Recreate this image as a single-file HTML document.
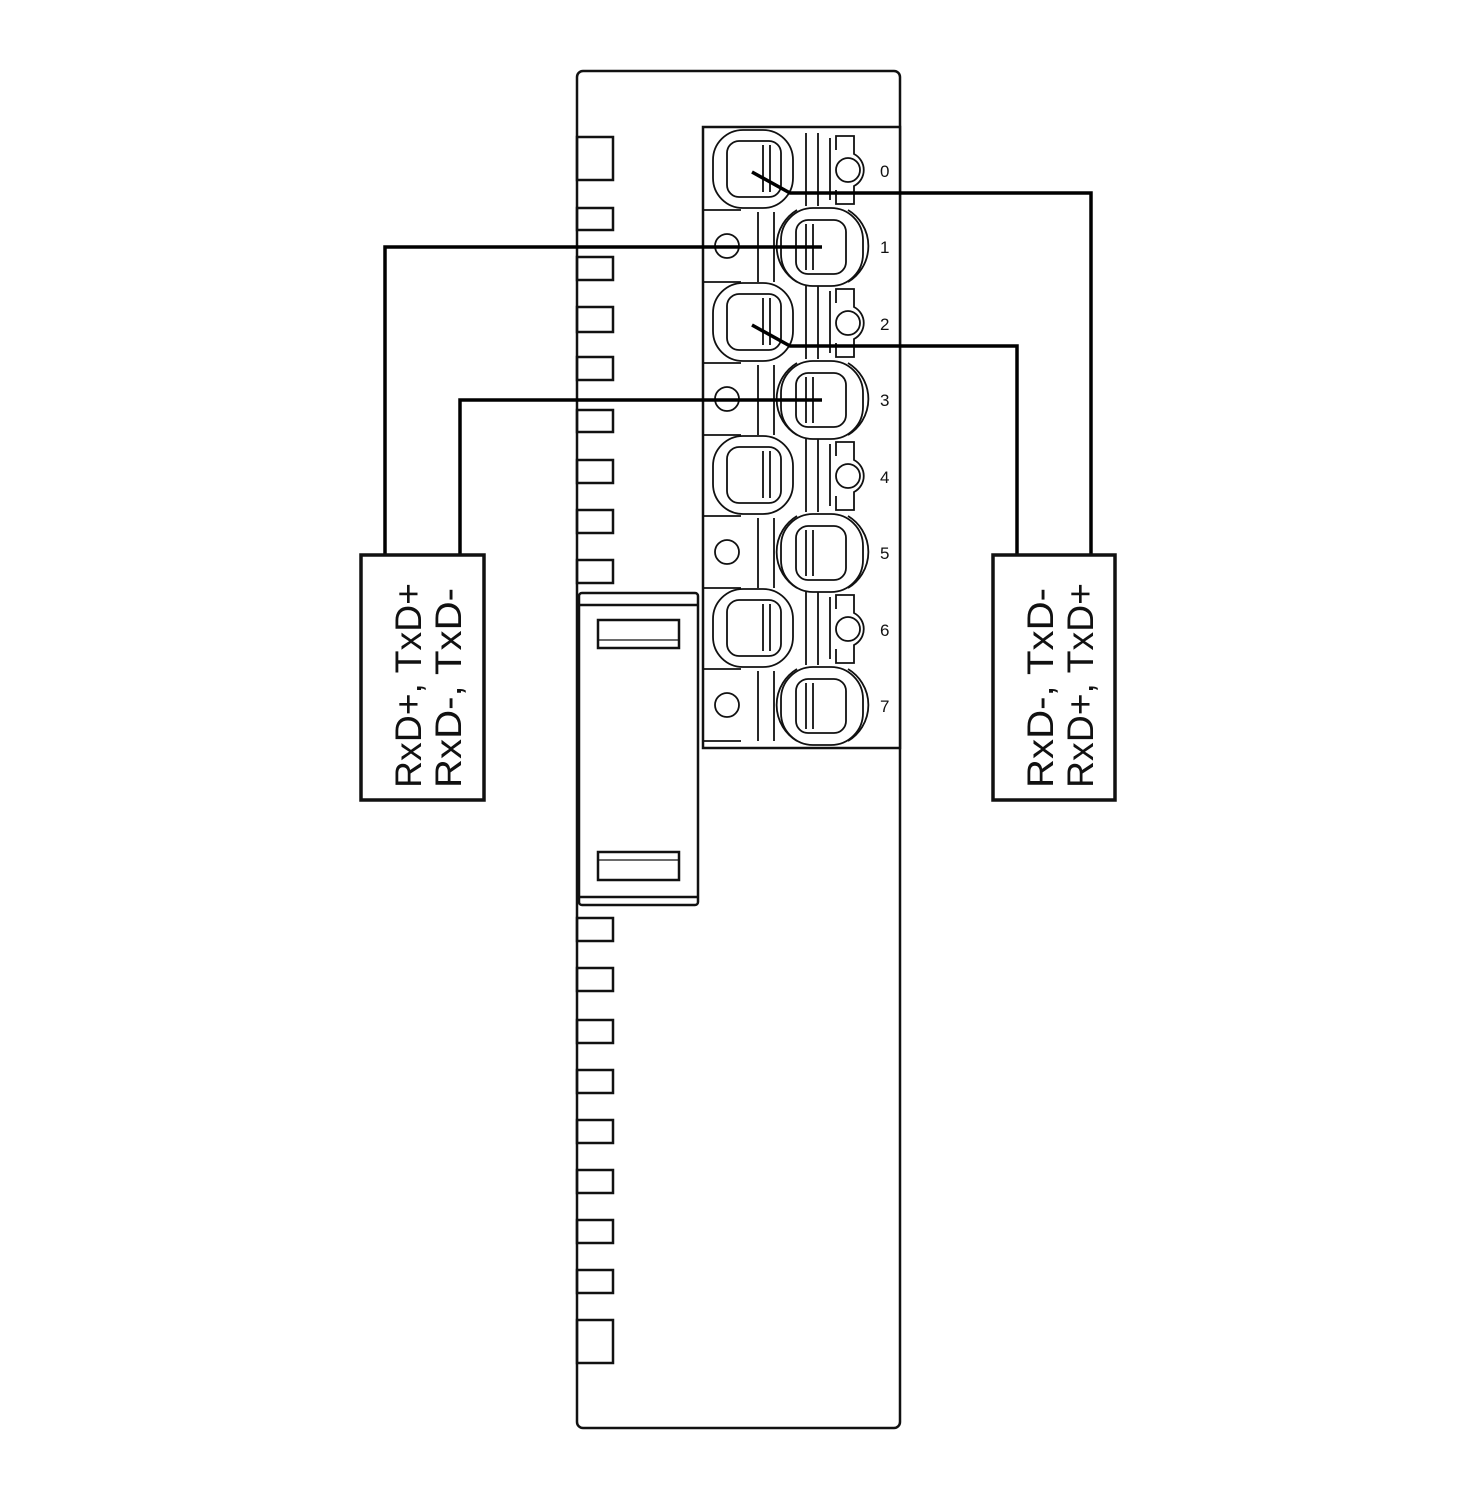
<!DOCTYPE html>
<html><head><style>html,body{margin:0;padding:0;background:#fff}svg{display:block}</style></head>
<body>
<svg width="1477" height="1500" viewBox="0 0 1477 1500" xmlns="http://www.w3.org/2000/svg" fill="none" stroke="#111" stroke-width="2.5">
<rect x="577" y="71" width="323" height="1357" rx="6"/>
<g stroke-width="2.5">
<rect x="577" y="137" width="36" height="43"/>
<rect x="577" y="208" width="36" height="22"/>
<rect x="577" y="257" width="36" height="23"/>
<rect x="577" y="307" width="36" height="25"/>
<rect x="577" y="357" width="36" height="23"/>
<rect x="577" y="410" width="36" height="22"/>
<rect x="577" y="460" width="36" height="23"/>
<rect x="577" y="510" width="36" height="23"/>
<rect x="577" y="560" width="36" height="23"/>
<rect x="577" y="918" width="36" height="23"/>
<rect x="577" y="968" width="36" height="23"/>
<rect x="577" y="1020" width="36" height="23"/>
<rect x="577" y="1070" width="36" height="23"/>
<rect x="577" y="1120" width="36" height="23"/>
<rect x="577" y="1170" width="36" height="23"/>
<rect x="577" y="1220" width="36" height="23"/>
<rect x="577" y="1270" width="36" height="23"/>
<rect x="577" y="1320" width="36" height="43"/>
</g>
<rect x="579" y="593" width="119" height="312" rx="3" fill="#fff"/>
<line x1="579" y1="605" x2="698" y2="605"/>
<line x1="579" y1="897" x2="698" y2="897"/>
<rect x="598" y="620" width="81" height="28"/>
<line x1="598" y1="640" x2="679" y2="640" stroke-width="1.2"/>
<rect x="598" y="852" width="81" height="28"/>
<line x1="598" y1="860" x2="679" y2="860" stroke-width="1.2"/>
<rect x="703" y="127" width="197" height="621" fill="#fff"/>
<g stroke-width="1.8">
<g id="ev">
<rect x="713" y="130" width="80" height="78" rx="30"/>
<rect x="727" y="141" width="54" height="56" rx="12"/>
<line x1="763" y1="145" x2="763" y2="192"/>
<line x1="770" y1="145" x2="770" y2="192"/>
<line x1="806" y1="133" x2="806" y2="206"/>
<line x1="818" y1="133" x2="818" y2="206"/>
<line x1="830" y1="138" x2="830" y2="200"/>
<circle cx="848" cy="170" r="12"/>
<path d="M836 150 v-14 h18 v18 a18 18 0 0 1 0 32 v18 h-18 v-14"/>
</g>
<use href="#ev" y="153"/>
<use href="#ev" y="306"/>
<use href="#ev" y="459"/>
<g id="od">
<path d="M797 210 a42 42 0 0 0 0 72 M848 210 a42 42 0 0 1 0 72"/>
<rect x="781" y="208" width="82" height="78" rx="32"/>
<rect x="796" y="220" width="50" height="54" rx="12"/>
<line x1="806" y1="224" x2="806" y2="270"/>
<line x1="813" y1="224" x2="813" y2="270"/>
<path d="M703 210 h38 M703 282 h38"/>
<line x1="758" y1="212" x2="758" y2="282"/>
<line x1="774" y1="212" x2="774" y2="282"/>
<circle cx="727" cy="246" r="12"/>
</g>
<use href="#od" y="153"/>
<use href="#od" y="306"/>
<use href="#od" y="459"/>
</g>
<g fill="#111" stroke="none" font-family="Liberation Sans, sans-serif" font-size="17">
<text x="880" y="177">0</text><text x="880" y="253">1</text>
<text x="880" y="330">2</text><text x="880" y="406">3</text>
<text x="880" y="483">4</text><text x="880" y="559">5</text>
<text x="880" y="636">6</text><text x="880" y="712">7</text>
</g>
<g stroke="#000" stroke-width="3.5" fill="none">
<polyline points="752,172 790,193 1091,193 1091,555"/>
<polyline points="822,247 385,247 385,555"/>
<polyline points="752,325 790,346 1017,346 1017,555"/>
<polyline points="822,400 460,400 460,555"/>
</g>
<rect x="361" y="555" width="123" height="245" stroke-width="3.5" fill="#fff"/>
<rect x="993" y="555" width="122" height="245" stroke-width="3.5" fill="#fff"/>
<g fill="#111" stroke="none" font-family="Liberation Sans, sans-serif" font-size="37" textLength="205">
<text transform="translate(421,788) rotate(-90)" textLength="205" lengthAdjust="spacingAndGlyphs">RxD+, TxD+</text>
<text transform="translate(461,788) rotate(-90)" textLength="200" lengthAdjust="spacingAndGlyphs">RxD-, TxD-</text>
<text transform="translate(1053,788) rotate(-90)" textLength="200" lengthAdjust="spacingAndGlyphs">RxD-, TxD-</text>
<text transform="translate(1093,788) rotate(-90)" textLength="205" lengthAdjust="spacingAndGlyphs">RxD+, TxD+</text>
</g>
</svg>
</body></html>
